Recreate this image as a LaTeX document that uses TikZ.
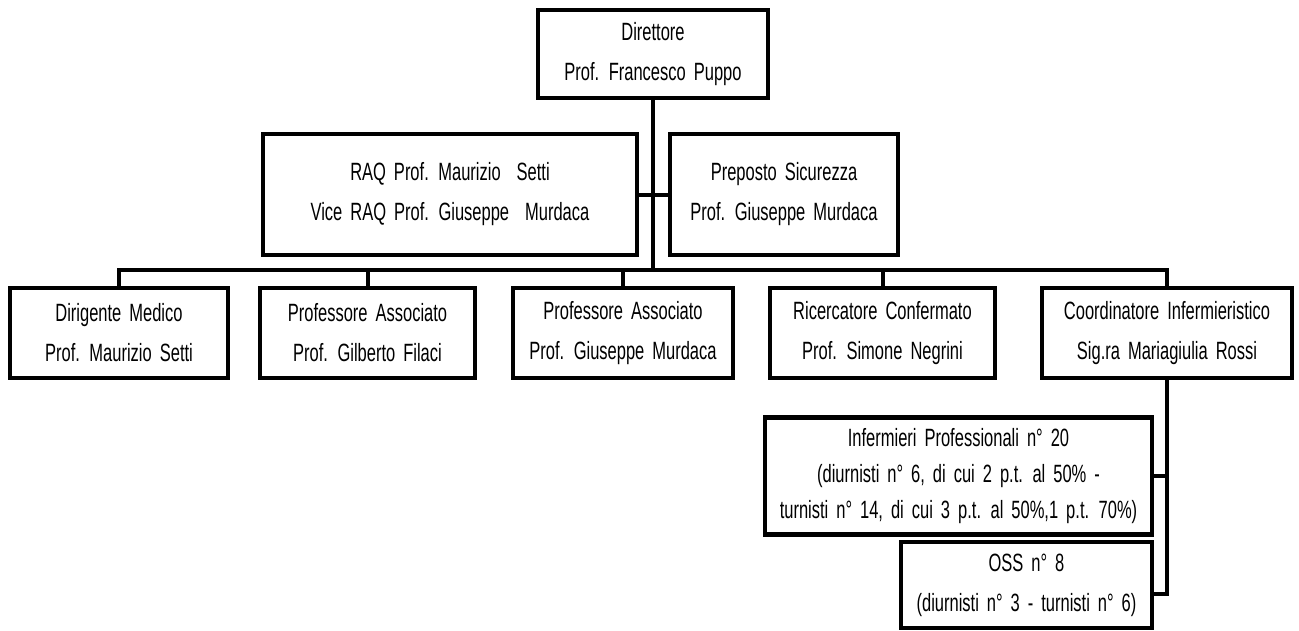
\documentclass[tikz,border=0pt]{standalone}
\usepackage{fontspec}
\setmainfont{Liberation Sans}[FakeStretch=0.66]
\newcommand{\boxfont}[1]{\fontsize{25}{#1}\selectfont\spaceskip=8pt plus 1pt minus 1pt\relax}
\begin{document}
\begin{tikzpicture}[x=1pt,y=-1pt,
  box/.style={draw,line width=4.5pt,align=center,inner sep=0pt,
    font=\boxfont{40}},
  conn/.style={line width=4pt,line cap=rect}]
\useasboundingbox (0,0) rectangle (1299,630);
\node[box,minimum width=230,minimum height=88] (dir) at (653,54)
  {Direttore\\Prof. Francesco Puppo};
\node[box,minimum width=374,minimum height=121] (raq) at (450,194.5)
  {RAQ Prof. Maurizio \ Setti\\Vice RAQ Prof. Giuseppe \ Murdaca};
\node[box,minimum width=228,minimum height=121] (prep) at (784,194.5)
  {Preposto Sicurezza\\Prof. Giuseppe Murdaca};
\node[box,minimum width=218,minimum height=90] (b1) at (119,333)
  {Dirigente Medico\\Prof. Maurizio Setti};
\node[box,minimum width=215,minimum height=90] (b2) at (367.5,333)
  {Professore Associato\\Prof. Gilberto Filaci};
\node[box,minimum width=220,minimum height=90] (b3) at (623,333)
  {Professore Associato\\Prof. Giuseppe Murdaca};
\node[box,minimum width=225,minimum height=90] (b4) at (882.5,333)
  {Ricercatore Confermato\\Prof. Simone Negrini};
\node[box,minimum width=250,minimum height=90] (b5) at (1167,333)
  {Coordinatore Infermieristico\\Sig.ra Mariagiulia Rossi};
\node[box,minimum width=387,minimum height=117,font=\boxfont{36}] (inf) at (958.5,476)
  {Infermieri Professionali n° 20\\(diurnisti n° 6, di cui 2 p.t. al 50\% -\\turnisti n° 14, di cui 3 p.t. al 50\%,1 p.t. 70\%)};
\node[box,minimum width=251,minimum height=86] (oss) at (1026.5,585)
  {OSS n° 8\\(diurnisti n° 3 - turnisti n° 6)};
\coordinate (bus) at (653,270);
\coordinate (spine) at (1167,594);
\draw[conn] (dir.south) -- (bus);
\draw[conn] (raq.east) -- (prep.west);
\foreach \b in {b1,b2,b3,b4,b5} \draw[conn] (\b.north) |- (bus);
\draw[conn] (b5.south) |- (inf.east);
\draw[conn] (b5.south) -- (spine) -- (oss.east |- spine);
\end{tikzpicture}
\end{document}
